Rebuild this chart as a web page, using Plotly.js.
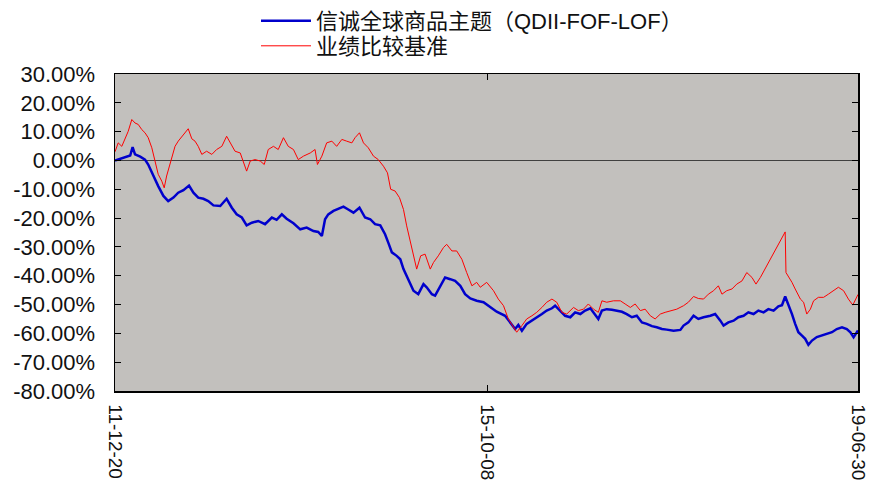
<!DOCTYPE html>
<html>
<head>
<meta charset="utf-8">
<script src="https://cdn.plot.ly/plotly-3.0.1.min.js"></script>
<style>
html,body{margin:0;padding:0;background:#ffffff;}
#chart{width:877px;height:483px;}
</style>
</head>
<body>
<div id="chart"></div>
<script>
// Trading-day index (approx.) and cumulative return in %
const fundName = "信诚全球商品主题（QDII-FOF-LOF）";
const benchName = "业绩比较基准";

const fundDay = [0,13,25,38,44,50,63,75,83,92,100,108,121,133,146,158,171,185,196,208,221,233,246,263,279,292,304,317,329,342,358,375,392,404,417,429,446,463,479,496,508,517,525,533,546,558,571,583,596,611,625,638,650,663,675,683,692,704,713,721,733,746,758,771,779,792,800,813,825,838,850,863,875,888,904,921,938,954,975,988,1000,1008,1017,1029,1042,1054,1067,1079,1092,1100,1113,1125,1138,1150,1163,1175,1188,1200,1208,1217,1229,1242,1254,1267,1279,1292,1304,1317,1329,1342,1354,1367,1379,1396,1413,1421,1433,1446,1458,1471,1488,1500,1513,1521,1533,1546,1558,1571,1583,1596,1608,1621,1633,1646,1658,1667,1675,1683,1692,1700,1708,1717,1725,1733,1742,1754,1767,1779,1792,1804,1817,1829,1838,1846,1854,1857];
const fundRet = [0,0.6,1.3,1.7,4.6,2.1,1.3,0.3,-1.4,-4.3,-6.6,-8.9,-12.3,-14.1,-12.9,-11.2,-10.3,-8.7,-11.2,-12.9,-13.3,-14.1,-15.6,-15.8,-13.3,-16.4,-18.7,-19.8,-22.5,-21.6,-21.0,-22.1,-19.8,-20.6,-18.7,-20.2,-21.8,-23.9,-23.3,-24.5,-24.8,-26.2,-20.4,-18.7,-17.5,-16.7,-16.0,-17.0,-18.1,-16.4,-19.8,-20.4,-22.1,-22.5,-25.6,-28.5,-31.9,-33.1,-34.3,-37.7,-41.2,-45.2,-46.4,-42.9,-44.0,-46.4,-46.9,-43.5,-40.6,-41.2,-41.8,-43.5,-46.4,-47.9,-48.7,-49.2,-51.0,-52.5,-53.9,-56.2,-58.5,-57.1,-59.1,-56.7,-55.6,-54.4,-53.3,-52.1,-51.3,-50.4,-52.1,-53.9,-54.4,-52.7,-53.3,-52.1,-51.3,-53.3,-55.0,-52.1,-51.6,-51.8,-52.1,-52.5,-53.3,-54.4,-53.9,-56.2,-56.7,-57.5,-57.9,-58.5,-58.7,-59.1,-58.8,-57.3,-56.2,-53.9,-55.0,-54.4,-53.9,-53.3,-55.6,-57.3,-56.2,-55.6,-54.4,-53.9,-52.7,-53.3,-52.1,-52.7,-51.6,-52.1,-50.6,-50.2,-47.2,-49.8,-53.3,-56.7,-59.6,-60.8,-61.9,-64.0,-62.5,-61.3,-60.8,-60.2,-59.6,-58.5,-57.9,-58.5,-59.6,-61.3,-59.6,-59.0];

const benchDay = [0,8,17,25,33,42,50,58,67,75,83,92,100,108,117,123,129,136,142,150,158,167,175,183,192,200,208,217,229,242,254,267,279,288,300,313,321,329,338,350,363,373,383,396,408,421,433,446,458,471,488,500,506,517,529,542,554,567,579,592,600,611,621,633,646,658,671,681,689,700,711,721,729,738,746,754,764,775,788,796,808,821,829,842,854,867,879,892,904,913,929,946,958,971,983,996,1004,1017,1029,1042,1054,1067,1079,1092,1104,1117,1129,1146,1158,1171,1183,1196,1208,1217,1229,1246,1263,1275,1288,1300,1313,1325,1338,1350,1363,1375,1388,1404,1421,1433,1446,1458,1471,1483,1496,1508,1517,1529,1542,1554,1567,1579,1592,1602,1613,1675,1677,1683,1692,1700,1713,1721,1729,1738,1746,1758,1771,1783,1796,1808,1821,1833,1844,1854,1857];
const benchRet = [3.0,6.1,4.9,7.3,10.1,14.2,13.0,12.5,10.7,9.6,7.9,4.4,-0.2,-4.8,-7.2,-9.5,-5.4,-2.0,0.9,4.9,6.7,8.4,9.6,11.0,7.5,6.7,4.9,2.1,3.2,2.1,3.8,4.9,8.4,6.1,3.2,2.6,-0.8,-3.7,-0.2,0.3,-0.2,-1.4,3.8,4.9,3.8,7.9,4.9,3.8,0.3,1.5,2.6,3.8,-1.4,1.5,6.1,6.7,4.9,7.3,6.7,6.1,7.9,9.6,6.1,4.4,1.5,0.3,-2.0,-4.3,-10.0,-10.6,-12.9,-17.0,-22.7,-28.5,-33.1,-37.7,-33.1,-32.5,-37.7,-35.4,-33.1,-30.2,-29.1,-31.4,-31.4,-34.3,-38.9,-43.5,-42.3,-44.0,-42.3,-45.2,-48.1,-50.4,-55.0,-57.9,-59.6,-57.3,-55.0,-53.9,-52.7,-51.0,-49.2,-48.1,-49.2,-52.7,-53.3,-51.0,-52.1,-51.6,-49.8,-51.6,-52.7,-48.7,-49.2,-48.7,-48.7,-49.8,-51.0,-49.8,-52.1,-51.6,-53.9,-55.0,-53.3,-52.7,-52.3,-51.6,-50.4,-49.2,-47.2,-47.9,-48.1,-46.4,-45.2,-43.5,-46.4,-45.2,-44.6,-42.9,-41.8,-38.9,-40.6,-42.9,-40.6,-24.8,-38.9,-40.1,-42.3,-44.6,-48.1,-49.2,-53.3,-51.6,-48.7,-47.5,-47.5,-46.4,-45.2,-44.0,-45.2,-48.1,-50.2,-46.9,-46.5];

const xTickVals = [0, 930, 1857];
const xTickText = ["11-12-20", "15-10-08", "19-06-30"];
const yTickVals = [30,20,10,0,-10,-20,-30,-40,-50,-60,-70,-80];
const yTickText = yTickVals.map(v => v.toFixed(2) + "%");

const latin = "Liberation Sans, Arial, sans-serif";
const mixed = "Liberation Sans, Noto Sans CJK SC, sans-serif";

const traces = [
  {x: fundDay, y: fundRet, name: fundName, type: "scatter", mode: "lines",
   line: {color: "#0000cc", width: 2.5}, legend: "legend"},
  {x: benchDay, y: benchRet, name: benchName, type: "scatter", mode: "lines",
   line: {color: "#ff0000", width: 1}, legend: "legend2"}
];

const legendCommon = {
  xanchor: "left", yanchor: "middle",
  bgcolor: "rgba(0,0,0,0)",
  font: {family: mixed, size: 22, color: "#111111"},
  itemwidth: 50
};

const layout = {
  width: 877, height: 483,
  margin: {l: 115, r: 19, t: 74, b: 92, pad: 0, autoexpand: false},
  paper_bgcolor: "#ffffff",
  plot_bgcolor: "#c2c0bd",
  showlegend: true,
  legend: Object.assign({}, legendCommon, {x: (256 - 115) / 743, y: (391 - 21) / 317}),
  legend2: Object.assign({}, legendCommon, {x: (256 - 115) / 743, y: (391 - 46) / 317}),
  xaxis: {
    range: [0, 1857],
    tickmode: "array", tickvals: xTickVals, ticktext: xTickText,
    tickangle: 90,
    ticks: "inside", ticklen: 6, tickcolor: "#000000", tickwidth: 1,
    showline: true, linecolor: "#000000", linewidth: 1.5, mirror: "ticks",
    showgrid: false, zeroline: false,
    ticklabelstandoff: 8,
    tickfont: {family: latin, size: 19, color: "#111111"}
  },
  yaxis: {
    range: [-80, 30],
    tickmode: "array", tickvals: yTickVals, ticktext: yTickText,
    ticks: "inside", ticklen: 6, tickcolor: "#000000", tickwidth: 1,
    showline: true, linecolor: "#000000", linewidth: 1.5, mirror: "ticks",
    showgrid: false,
    zeroline: true, zerolinecolor: "#404040", zerolinewidth: 1,
    ticklabelstandoff: 14,
    tickfont: {family: latin, size: 22, color: "#111111"}
  }
};

Plotly.newPlot("chart", traces, layout, {displayModeBar: false, staticPlot: true});
</script>
</body>
</html>
